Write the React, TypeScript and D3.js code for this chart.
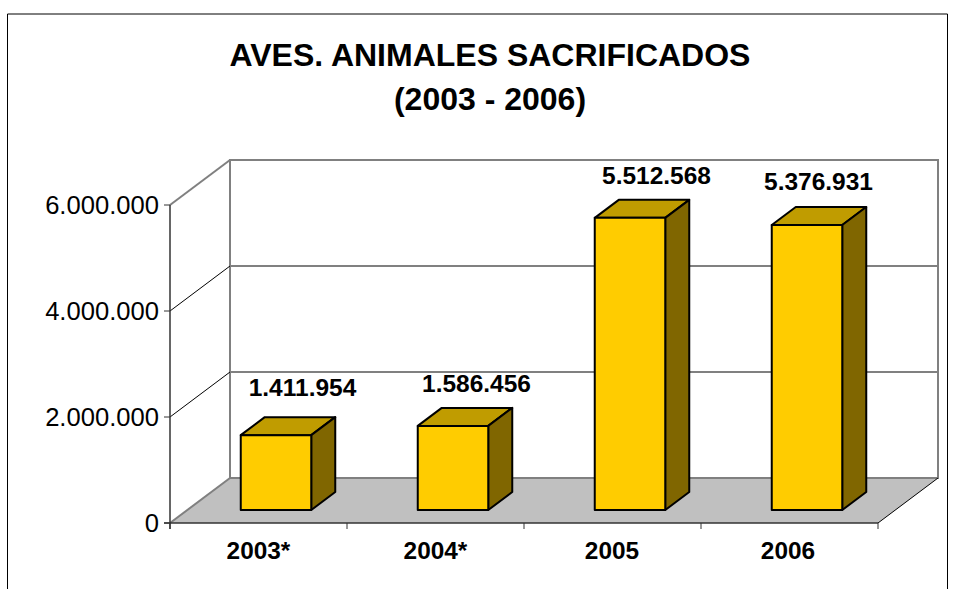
import React from "react";
import * as d3 from "d3";

const categories = ["2003*", "2004*", "2005", "2006"];
const values = [1411954, 1586456, 5512568, 5376931];
const labels = ["1.411.954", "1.586.456", "5.512.568", "5.376.931"];
const yTicks = [0, 2000000, 4000000, 6000000];
const yTickLabels = ["0", "2.000.000", "4.000.000", "6.000.000"];
const titleLines = ["AVES. ANIMALES SACRIFICADOS", "(2003 - 2006)"];

const FONT = "'Liberation Sans', Arial, sans-serif";
const depthX = 60;
const depthY = -45;
const labelNudge: [number, number][] = [[44, -52], [41, -47], [44, -47], [29, -48]];
const catNudge = [0, 0, -0.5, -1.5];

const x = d3.scaleBand<string>().domain(categories).range([170, 878]).paddingInner(0).paddingOuter(0);
const y = d3.scaleLinear().domain([0, 6000000]).range([523, 205]);

const poly = (pts: [number, number][]) => d3.line()(pts) + "Z";

export default function App() {
  const x0 = 170, x1 = 878, yb = y(0), yt = y(6000000);
  return (
    <svg width={957} height={589} style={{ position: "absolute", left: 0, top: 0, background: "#fff" }} fontFamily={FONT}>
      <path d="M7.5 589V14H947.5V589" fill="none" stroke="#000" strokeWidth={1} />
      {titleLines.map((t, i) => (
        <text key={t} x={490} y={66 + i * 44} textAnchor="middle" fontSize={32} fontWeight="bold" fill="#000">{t}</text>
      ))}
      {/* floor */}
      <path d={poly([[x0, yb], [x0 + depthX, yb + depthY], [x1 + depthX, yb + depthY], [x1, yb]])} fill="#c0c0c0" />
      {/* back wall + grid */}
      <path d={poly([[x0 + depthX, yt + depthY], [x1 + depthX, yt + depthY], [x1 + depthX, yb + depthY], [x0 + depthX, yb + depthY]])} fill="none" stroke="#808080" strokeWidth={2} />
      {yTicks.slice(1, 3).map(t => (
        <line key={t} x1={x0 + depthX} x2={x1 + depthX} y1={y(t) + depthY} y2={y(t) + depthY} stroke="#808080" strokeWidth={2} />
      ))}
      {/* side diagonals */}
      <line x1={x0} y1={yb} x2={x0 + depthX} y2={yb + depthY} stroke="#808080" strokeWidth={2} />
      <line x1={x0} y1={yt} x2={x0 + depthX} y2={yt + depthY} stroke="#808080" strokeWidth={2} />
      {yTicks.slice(1, 3).map(t => (
        <line key={t} x1={x0} y1={y(t)} x2={x0 + depthX} y2={y(t) + depthY} stroke="#000" strokeWidth={1} />
      ))}
      <line x1={x1} y1={yb} x2={x1 + depthX} y2={yb + depthY} stroke="#000" strokeWidth={1} />
      {/* axes */}
      <line x1={x0} x2={x0} y1={yt} y2={yb + 6} stroke="#333" strokeWidth={1.5} />
      <line x1={x0 - 6} x2={x1} y1={yb} y2={yb} stroke="#333" strokeWidth={1.5} />
      {yTicks.map((t, i) => (
        <g key={t}>
          <line x1={x0 - 6} x2={x0} y1={y(t)} y2={y(t)} stroke="#333" strokeWidth={1} />
          <text x={159} y={y(t) + 9} textAnchor="end" fontSize={25.6} fill="#000">{yTickLabels[i]}</text>
        </g>
      ))}
      {[...categories.map(c => x(c)!), x1].map(v => (
        <line key={v} x1={v} x2={v} y1={yb} y2={yb + 6} stroke="#333" strokeWidth={1} />
      ))}
      {/* bars */}
      {categories.map((c, i) => {
        const w = 70.5, dx = 24, dy = -18, off = 17.5, fy = -13;
        const left = x(c)! + x.bandwidth() / 2 - w / 2 + off;
        const right = left + w;
        const bottom = y(0) + fy;
        const top = y(values[i]) + fy;
        return (
          <g key={c} stroke="#000" strokeWidth={2} strokeLinejoin="round">
            <path d={poly([[left, top], [left + dx, top + dy], [right + dx, top + dy], [right, top]])} fill="#c09c00" />
            <path d={poly([[right, top], [right + dx, top + dy], [right + dx, bottom + dy], [right, bottom]])} fill="#806600" />
            <rect x={left} y={top} width={w} height={bottom - top} fill="#ffcc00" />
          </g>
        );
      })}
      {/* data labels */}
      {categories.map((c, i) => (
        <text key={c} x={x(c)! + x.bandwidth() / 2 + labelNudge[i][0]} y={y(values[i]) + labelNudge[i][1]} textAnchor="middle" fontSize={24.5} fontWeight="bold" fill="#000">{labels[i]}</text>
      ))}
      {categories.map((c, i) => (
        <text key={c} x={x(c)! + x.bandwidth() / 2 + catNudge[i]} y={559} textAnchor="middle" fontSize={24.4} fontWeight="bold" fill="#000">{c}</text>
      ))}
    </svg>
  );
}
